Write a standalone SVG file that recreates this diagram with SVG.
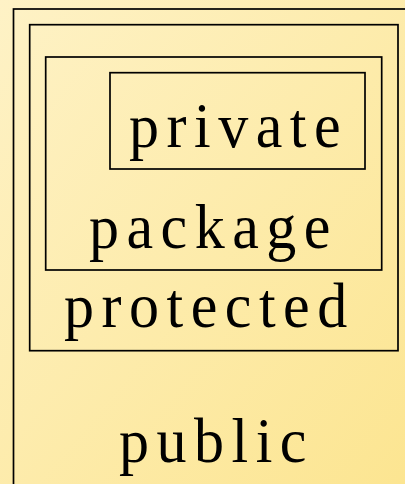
<svg xmlns="http://www.w3.org/2000/svg" width="405" height="484" viewBox="0 0 405 484">
<defs>
<linearGradient id="bg" x1="0" y1="0" x2="1" y2="1">
<stop offset="0" stop-color="#FEF2C6"/>
<stop offset="1" stop-color="#FCE591"/>
</linearGradient>
</defs>
<style>
.box{fill:none;stroke:#000;stroke-width:1.7}
.lbl{font-family:"Liberation Serif","Times New Roman",serif;font-size:60px;letter-spacing:7.5px;fill:#000}
</style>
<rect x="0" y="0" width="405" height="484" fill="url(#bg)"/>
<g id="public">
<rect class="box" x="13.5" y="9" width="420" height="500"/>
<text class="lbl" transform="translate(119,462) scale(1,1.07)">public</text>
</g>
<g id="protected">
<rect class="box" x="29.7" y="24.7" width="368.3" height="326"/>
<text class="lbl" transform="translate(64,327) scale(1,1.07)">protected</text>
</g>
<g id="package">
<rect class="box" x="45.7" y="57" width="336" height="213"/>
<text class="lbl" transform="translate(89,248) scale(1,1.07)">package</text>
</g>
<g id="private">
<rect class="box" x="110" y="72.7" width="255" height="96.3"/>
<text class="lbl" transform="translate(129,147) scale(1,1.07)">private</text>
</g>
</svg>
